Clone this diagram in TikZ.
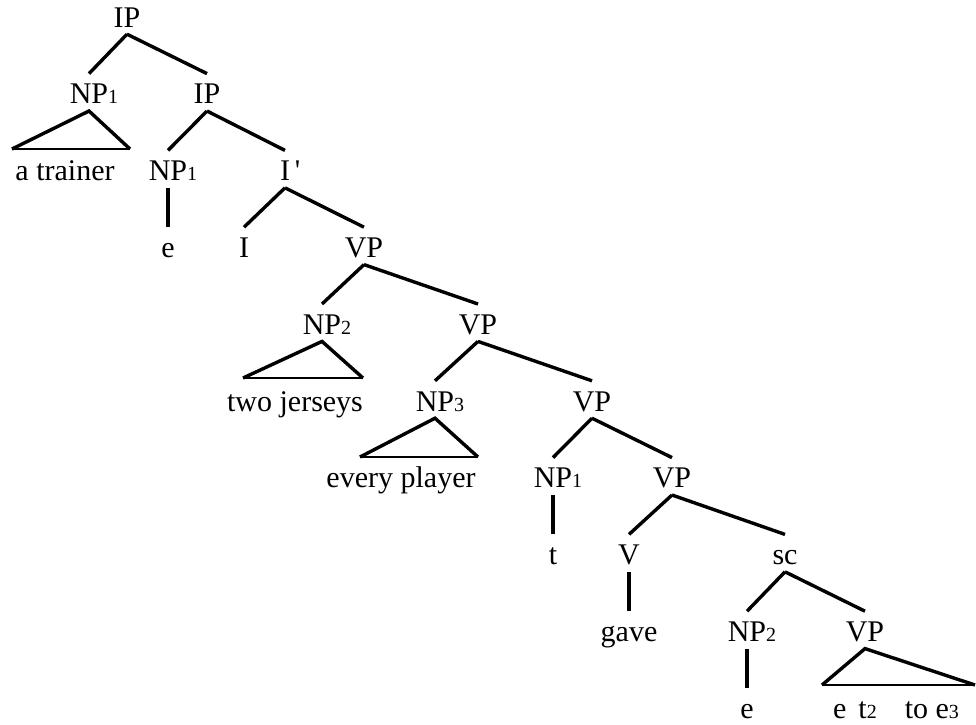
\documentclass[tikz,border=0pt]{standalone}
\usepackage{fontspec}
\setmainfont{Liberation Serif}
\usepackage{tikz}
\tikzstyle{treeLabel} = [anchor=base, inner xsep=0pt, inner ysep=7pt, text height=23pt, text depth=0pt, font=\fontsize{30}{36}\selectfont]
\tikzstyle{branch} = [line width=3.4pt]
\tikzstyle{triangleBase} = [line width=1.6pt]
\newcommand{\npIndex}[1]{\rlap{\fontsize{20}{20}\selectfont #1}}
\newcommand{\smallDigit}[1]{{\fontsize{20}{20}\selectfont #1}}
\newcommand{\treeNode}[4]{\node [treeLabel] (#1) at (#2, {27 + 76.8 * #3}) {#4};}
\newcommand{\branchTo}[2]{\draw [branch] (#1.south) -- (#2.north);}
\newcommand{\roof}[3]{
  \draw [branch] (#2) -- (#1.south) -- (#3);
  \draw [triangleBase] (#2) -- (#3);
}

\begin{document}
\begin{tikzpicture}[x = 1pt, y = -1pt]
  \useasboundingbox (0,0) rectangle (976,724);

  \treeNode{ipTop}{127}{0}{IP}
  \treeNode{npA}{89}{1}{NP\npIndex{1}}
  \treeNode{ipA}{207}{1}{IP}
  \treeNode{aTrainer}{65}{2}{a trainer}
  \treeNode{npB}{168}{2}{NP\npIndex{1}}
  \treeNode{iBar}{285}{2}{I\rlap{\hspace{5pt}\textquotesingle}}
  \treeNode{eA}{168}{3}{e}
  \treeNode{iHead}{244}{3}{I}
  \treeNode{vpA}{364}{3}{VP}
  \treeNode{npTwo}{322}{4}{NP\npIndex{2}}
  \treeNode{vpB}{478}{4}{VP}
  \treeNode{twoJerseys}{295}{5}{two jerseys}
  \treeNode{npThree}{435}{5}{NP\npIndex{3}}
  \treeNode{vpC}{592}{5}{VP}
  \treeNode{everyPlayer}{401}{6}{every player}
  \treeNode{npC}{553}{6}{NP\npIndex{1}}
  \treeNode{vpD}{672}{6}{VP}
  \treeNode{tTrace}{553}{7}{t}
  \treeNode{vHead}{629}{7}{V}
  \treeNode{scNode}{785}{7}{sc}
  \treeNode{gave}{629}{8}{gave}
  \treeNode{npTwoB}{747}{8}{NP\npIndex{2}}
  \treeNode{vpE}{865}{8}{VP}
  \treeNode{eB}{747}{9}{e}
  \treeNode{vpText}{896}{9}{e\hspace{12pt}t\smallDigit{2}\hspace{28pt}to e\smallDigit{3}}

  % branches
  \branchTo{ipTop}{npA}
  \branchTo{ipTop}{ipA}
  \branchTo{ipA}{npB}
  \branchTo{ipA}{iBar}
  \branchTo{npB}{eA}
  \branchTo{iBar}{iHead}
  \branchTo{iBar}{vpA}
  \branchTo{vpA}{npTwo}
  \branchTo{vpA}{vpB}
  \branchTo{vpB}{npThree}
  \branchTo{vpB}{vpC}
  \branchTo{vpC}{npC}
  \branchTo{vpC}{vpD}
  \branchTo{npC}{tTrace}
  \branchTo{vpD}{vHead}
  \branchTo{vpD}{scNode}
  \branchTo{vHead}{gave}
  \branchTo{scNode}{npTwoB}
  \branchTo{scNode}{vpE}
  \branchTo{npTwoB}{eB}

  % roofs
  \coordinate (trainerLeft) at (12,149);
  \coordinate (trainerRight) at (130,149);
  \coordinate (jerseysLeft) at (243,378);
  \coordinate (jerseysRight) at (363,378);
  \coordinate (playerLeft) at (360,457);
  \coordinate (playerRight) at (478,457);
  \coordinate (smallLeft) at (822,685);
  \coordinate (smallRight) at (975,685);
  \roof{npA}{trainerLeft}{trainerRight}
  \roof{npTwo}{jerseysLeft}{jerseysRight}
  \roof{npThree}{playerLeft}{playerRight}
  \roof{vpE}{smallLeft}{smallRight}
\end{tikzpicture}
\end{document}
